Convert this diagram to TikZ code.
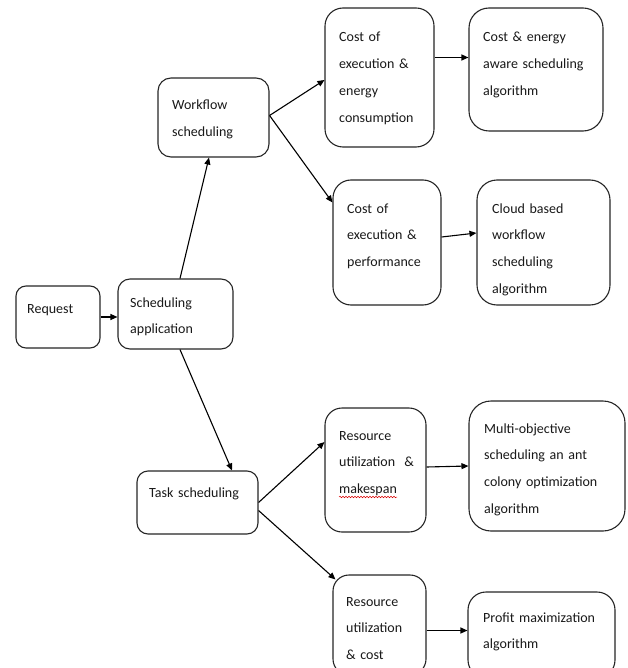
\documentclass[tikz,border=0pt]{standalone}
\usepackage{fontspec}
\setmainfont{Carlito}
\usetikzlibrary{arrows.meta,calc,decorations.pathmorphing}
\begin{document}
\begin{tikzpicture}[x=1pt,y=-1pt,
  box/.style={draw=black!85, line width=1.1pt, inner sep=0pt, fill=white},
  txt/.style={anchor=base west, inner sep=0pt, align=left, text width=200pt,
    font=\fontsize{14}{26.7}\selectfont, text=black!90},
  arr/.style={-{Triangle[length=7pt,width=6pt]}, line width=1.1pt, draw=black},
  squiggle/.style={draw=red!85!black, line width=0.5pt,
    decorate, decoration={snake, segment length=3pt, amplitude=0.8pt}}]
\useasboundingbox (0,0) rectangle (627,668);
\clip (0,0) rectangle (627,668);

% boxes
\node[box, minimum width=84pt,  minimum height=62pt,  rounded corners=10pt] (req) at (58,317) {};
\node[box, minimum width=115pt, minimum height=70pt,  rounded corners=12pt] (app) at (175.5,314) {};
\node[box, minimum width=111pt, minimum height=79pt,  rounded corners=13pt] (wf)  at (213.5,117.5) {};
\node[box, minimum width=109pt, minimum height=139pt, rounded corners=18pt] (c1)  at (379.5,77.5) {};
\node[box, minimum width=134pt, minimum height=123pt, rounded corners=20pt] (ca)  at (536,69.5) {};
\node[box, minimum width=108pt, minimum height=125pt, rounded corners=18pt] (c2)  at (387,242.5) {};
\node[box, minimum width=133pt, minimum height=125pt, rounded corners=20pt] (cl)  at (543.5,242.5) {};
\node[box, minimum width=101pt, minimum height=124pt, rounded corners=17pt] (rm)  at (375.5,470) {};
\node[box, minimum width=156pt, minimum height=130pt, rounded corners=22pt] (mo)  at (547,466) {};
\node[box, minimum width=121pt, minimum height=63pt,  rounded corners=11pt] (ts)  at (197.5,502.5) {};
\node[box, minimum width=93pt,  minimum height=100pt, rounded corners=16pt] (rc)  at (379.5,625) {};
\node[box, minimum width=147pt, minimum height=86pt,  rounded corners=18pt] (pm)  at (541.5,635) {};

% texts
\node[txt] (treq) at (27,313) {Request};
\node[txt] (tapp) at (130,307) {Scheduling\\application};
\node[txt] (twf)  at (172,110) {Workflow\\scheduling};
\node[txt] (tc1)  at (339,42)  {Cost of\\execution \&\\energy\\consumption};
\node[txt] (tca)  at (483,42)  {Cost \& energy\\aware scheduling\\algorithm};
\node[txt] (tc2)  at (347,213) {Cost of\\execution \&\\performance};
\node[txt] (tcl)  at (492,213) {Cloud based\\workflow\\scheduling\\algorithm};
\node[txt] (trm)  at (339,440) {Resource\\utilization~ \&\\makespan};
\node[txt] (tmo)  at (484,433) {Multi-objective\\scheduling an ant\\colony optimization\\algorithm};
\node[txt] (tts)  at (149,497) {Task scheduling};
\node[txt] (trc)  at (346,606) {Resource\\utilization\\\& cost};
\node[txt] (tpm)  at (483,622) {Profit maximization\\algorithm};

% spell-check underline
\coordinate (sqa) at (339,497);
\coordinate (sqb) at (397,497);
\draw[squiggle] (sqa) -- (sqb);

% connectors
\draw[arr] (req.east) -- (req.east -| app.west);
\draw[arr] ([xshift=4.5pt]app.north) -- ([xshift=-4.5pt]wf.south);
\draw[arr] ([xshift=4.5pt]app.south) -- ([xshift=34.5pt]ts.north);
\draw[arr] ([yshift=2pt]wf.east) -- ([yshift=-2.5pt]c1.west);
\draw[arr] ([yshift=2pt]wf.east) -- ([yshift=40pt]c2.west);
\coordinate (p1) at ([yshift=20pt]c1.east);
\draw[arr] (p1) -- (p1 -| ca.west);
\draw[arr] ([yshift=5.5pt]c2.east) -- ([yshift=9.5pt]cl.west);
\draw[arr] (ts.east) -- ([yshift=28pt]rm.west);
\draw[arr] ([yshift=-8pt]ts.east) -- ([xshift=3pt,yshift=-5pt]rc.north west);
\draw[arr] ([yshift=3pt]rm.east) -- (mo.west);
\coordinate (p2) at ([yshift=-5.5pt]rc.east);
\draw[arr] (p2) -- (p2 -| pm.west);
\end{tikzpicture}
\end{document}
